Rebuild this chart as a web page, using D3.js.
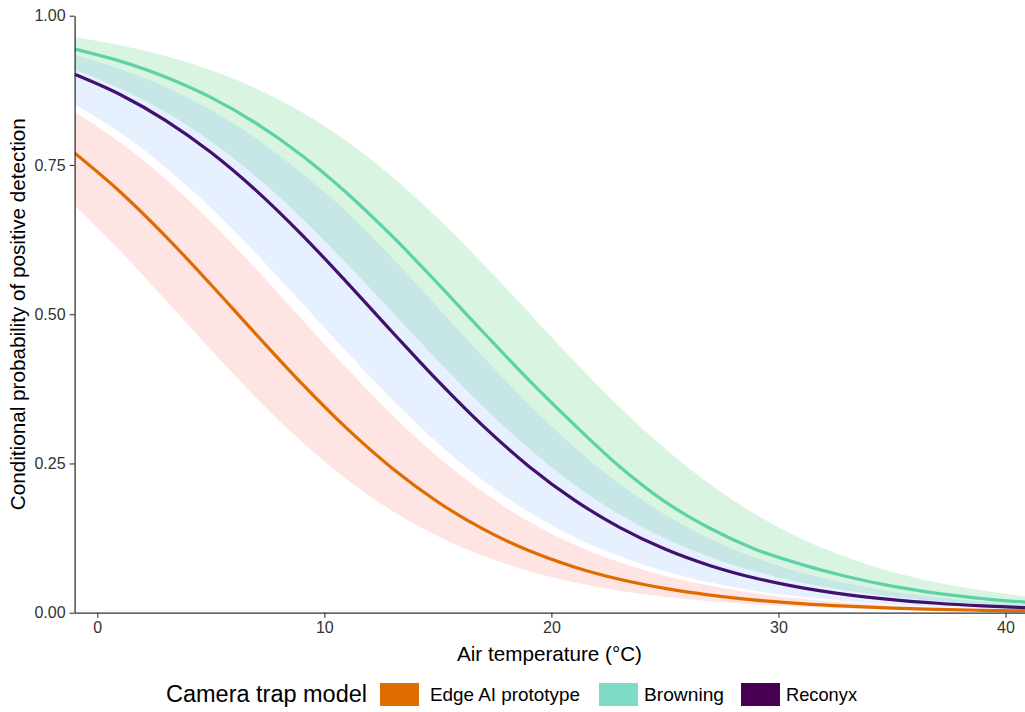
<!DOCTYPE html>
<html>
<head>
<meta charset="utf-8">
<script src="https://cdn.jsdelivr.net/npm/d3@7"></script>
<style>
  html, body { margin: 0; padding: 0; background: #ffffff; }
  svg { display: block; font-family: "Liberation Sans", Arial, sans-serif; }
</style>
</head>
<body>
<svg id="chart" width="1025" height="712"></svg>
<script>
// ---- data ----
const temps = [-1, 1, 3, 5, 7, 9, 11, 13, 15, 17, 19, 21, 23, 25, 27, 29, 31, 33, 35, 37, 39, 41];

const edgeMean = [0.7700, 0.7051, 0.6309, 0.5498, 0.4660, 0.3841, 0.3083, 0.2416, 0.1854, 0.1399, 0.1041, 0.0767, 0.0560, 0.0407, 0.0294, 0.0212, 0.0152, 0.0109, 0.0078, 0.0056, 0.0040, 0.0029];
const edgeLow  = [0.6831, 0.6063, 0.5240, 0.4403, 0.3598, 0.2866, 0.2231, 0.1702, 0.1279, 0.0948, 0.0697, 0.0508, 0.0368, 0.0266, 0.0192, 0.0138, 0.0099, 0.0071, 0.0051, 0.0036, 0.0026, 0.0019];
const edgeHigh = [0.8386, 0.7879, 0.7263, 0.6548, 0.5754, 0.4920, 0.4090, 0.3309, 0.2612, 0.2016, 0.1529, 0.1143, 0.0844, 0.0618, 0.0450, 0.0325, 0.0235, 0.0169, 0.0121, 0.0087, 0.0062, 0.0045];

const browningMean = [0.9440, 0.9239, 0.8974, 0.8632, 0.8198, 0.7664, 0.7027, 0.6302, 0.5513, 0.4698, 0.3899, 0.3152, 0.2450, 0.1860, 0.1410, 0.1060, 0.0810, 0.0607, 0.0445, 0.0325, 0.0237, 0.0172];
const browningLow  = [0.9092, 0.8782, 0.8387, 0.7895, 0.7301, 0.6611, 0.5842, 0.5032, 0.4221, 0.3450, 0.2753, 0.2148, 0.1648, 0.1245, 0.0930, 0.0689, 0.0506, 0.0370, 0.0270, 0.0196, 0.0142, 0.0103];
const browningHigh = [0.9639, 0.9505, 0.9327, 0.9090, 0.8781, 0.8386, 0.7892, 0.7297, 0.6606, 0.5839, 0.5030, 0.4217, 0.3446, 0.2749, 0.2147, 0.1647, 0.1243, 0.0929, 0.0688, 0.0505, 0.0370, 0.0269];

const reconyxMean = [0.9018, 0.8680, 0.8248, 0.7712, 0.7070, 0.6334, 0.5530, 0.4698, 0.3882, 0.3124, 0.2454, 0.1889, 0.1430, 0.1067, 0.0788, 0.0577, 0.0420, 0.0304, 0.0220, 0.0158, 0.0114, 0.0082];
const reconyxLow  = [0.8516, 0.8042, 0.7463, 0.6781, 0.6013, 0.5192, 0.4361, 0.3564, 0.2840, 0.2212, 0.1690, 0.1271, 0.0944, 0.0695, 0.0507, 0.0369, 0.0267, 0.0192, 0.0139, 0.0100, 0.0072, 0.0051];
const reconyxHigh = [0.9338, 0.9108, 0.8807, 0.8422, 0.7943, 0.7363, 0.6711, 0.5936, 0.5112, 0.4282, 0.3491, 0.2775, 0.2157, 0.1645, 0.1236, 0.0917, 0.0674, 0.0492, 0.0357, 0.0259, 0.0187, 0.0134];

const seriesNames = ["Edge AI prototype", "Browning", "Reconyx"];
const xTicks = [0, 10, 20, 30, 40];
const yTicks = [0, 0.25, 0.5, 0.75, 1];
const yTickLabels = ["0.00", "0.25", "0.50", "0.75", "1.00"];

// ---- styling ----
const lineColors   = ["#E06C00", "#5CD2A6", "#42116E"];
const legendColors = ["#DF6C00", "#7EDCC6", "#470052"];
const ribbonColors = ["#F8766D", "#00BA38", "#619CFF"];
const ribbonAlpha  = [0.19, 0.15, 0.15];

const series = [
  { mean: edgeMean, low: edgeLow, high: edgeHigh },
  { mean: browningMean, low: browningLow, high: browningHigh },
  { mean: reconyxMean, low: reconyxLow, high: reconyxHigh }
];

const svg = d3.select("#chart");
const plotLeft = 74.6, plotBottom = 612.7, plotTop = 15.7;

const x = d3.scaleLinear().domain([-1, 41]).range([plotLeft, plotLeft + 42 * 22.705]);
const y = d3.scaleLinear().domain([0, 1]).range([plotBottom, plotTop]);

svg.append("defs").append("clipPath").attr("id", "plotclip")
  .append("rect").attr("x", plotLeft).attr("y", 0).attr("width", 1025 - plotLeft).attr("height", plotBottom);

const plot = svg.append("g").attr("clip-path", "url(#plotclip)");

const area = d3.area()
  .x((d, i) => x(temps[i]))
  .y0(d => y(d[0]))
  .y1(d => y(d[1]))
  .curve(d3.curveMonotoneX);

const line = d3.line()
  .x((d, i) => x(temps[i]))
  .y(d => y(d))
  .curve(d3.curveMonotoneX);

series.forEach((s, k) => {
  plot.append("path")
    .datum(s.low.map((v, i) => [v, s.high[i]]))
    .attr("d", area)
    .attr("fill", ribbonColors[k])
    .attr("fill-opacity", ribbonAlpha[k])
    .attr("stroke", "none");
});

series.forEach((s, k) => {
  plot.append("path")
    .datum(s.mean)
    .attr("d", line)
    .attr("fill", "none")
    .attr("stroke", lineColors[k])
    .attr("stroke-width", 3.2)
    .attr("stroke-linejoin", "round");
});

// ---- axes ----
const xAxis = d3.axisBottom(x).tickValues(xTicks).tickSize(5).tickSizeOuter(0).tickPadding(4);
const gx = svg.append("g").attr("transform", `translate(0,${plotBottom})`).call(xAxis);
gx.select(".domain").attr("stroke", "#333").attr("stroke-width", 1.3);
gx.selectAll(".tick line").attr("stroke", "#333").attr("stroke-width", 1.1);
gx.selectAll(".tick text").attr("font-size", 16).attr("fill", "#333")
  .attr("font-family", "Liberation Sans, Arial, sans-serif");

const yAxis = d3.axisLeft(y).tickValues(yTicks).tickFormat((d, i) => yTickLabels[i])
  .tickSize(5).tickSizeOuter(0).tickPadding(4);
const gy = svg.append("g").attr("transform", `translate(${plotLeft},0)`).call(yAxis);
gy.select(".domain").attr("stroke", "#333").attr("stroke-width", 1.3);
gy.selectAll(".tick line").attr("stroke", "#333").attr("stroke-width", 1.1);
gy.selectAll(".tick text").attr("font-size", 16).attr("fill", "#333")
  .attr("font-family", "Liberation Sans, Arial, sans-serif");

// axis titles
svg.append("text")
  .attr("x", 549.5).attr("y", 661)
  .attr("text-anchor", "middle")
  .attr("font-size", 21)
  .attr("fill", "#000")
  .attr("textLength", 185).attr("lengthAdjust", "spacingAndGlyphs")
  .text("Air temperature (°C)");

svg.append("text")
  .attr("transform", `translate(25,${(plotTop + plotBottom) / 2}) rotate(-90)`)
  .attr("text-anchor", "middle")
  .attr("font-size", 21)
  .attr("fill", "#000")
  .attr("textLength", 392).attr("lengthAdjust", "spacingAndGlyphs")
  .text("Conditional probability of positive detection");

// ---- legend ----
const legend = svg.append("g");
legend.append("text")
  .attr("x", 166).attr("y", 702)
  .attr("font-size", 23).attr("fill", "#000")
  .attr("textLength", 201).attr("lengthAdjust", "spacingAndGlyphs")
  .text("Camera trap model");

const keyX = [380, 599, 741];
const labX = [430, 644, 786];
const labW = [150, 80, 71];
seriesNames.forEach((name, k) => {
  legend.append("rect")
    .attr("x", keyX[k]).attr("y", 683)
    .attr("width", 39).attr("height", 23)
    .attr("fill", legendColors[k]);
  legend.append("text")
    .attr("x", labX[k]).attr("y", 701)
    .attr("font-size", 19).attr("fill", "#000")
    .attr("textLength", labW[k]).attr("lengthAdjust", "spacingAndGlyphs")
    .text(name);
});
</script>
</body>
</html>
